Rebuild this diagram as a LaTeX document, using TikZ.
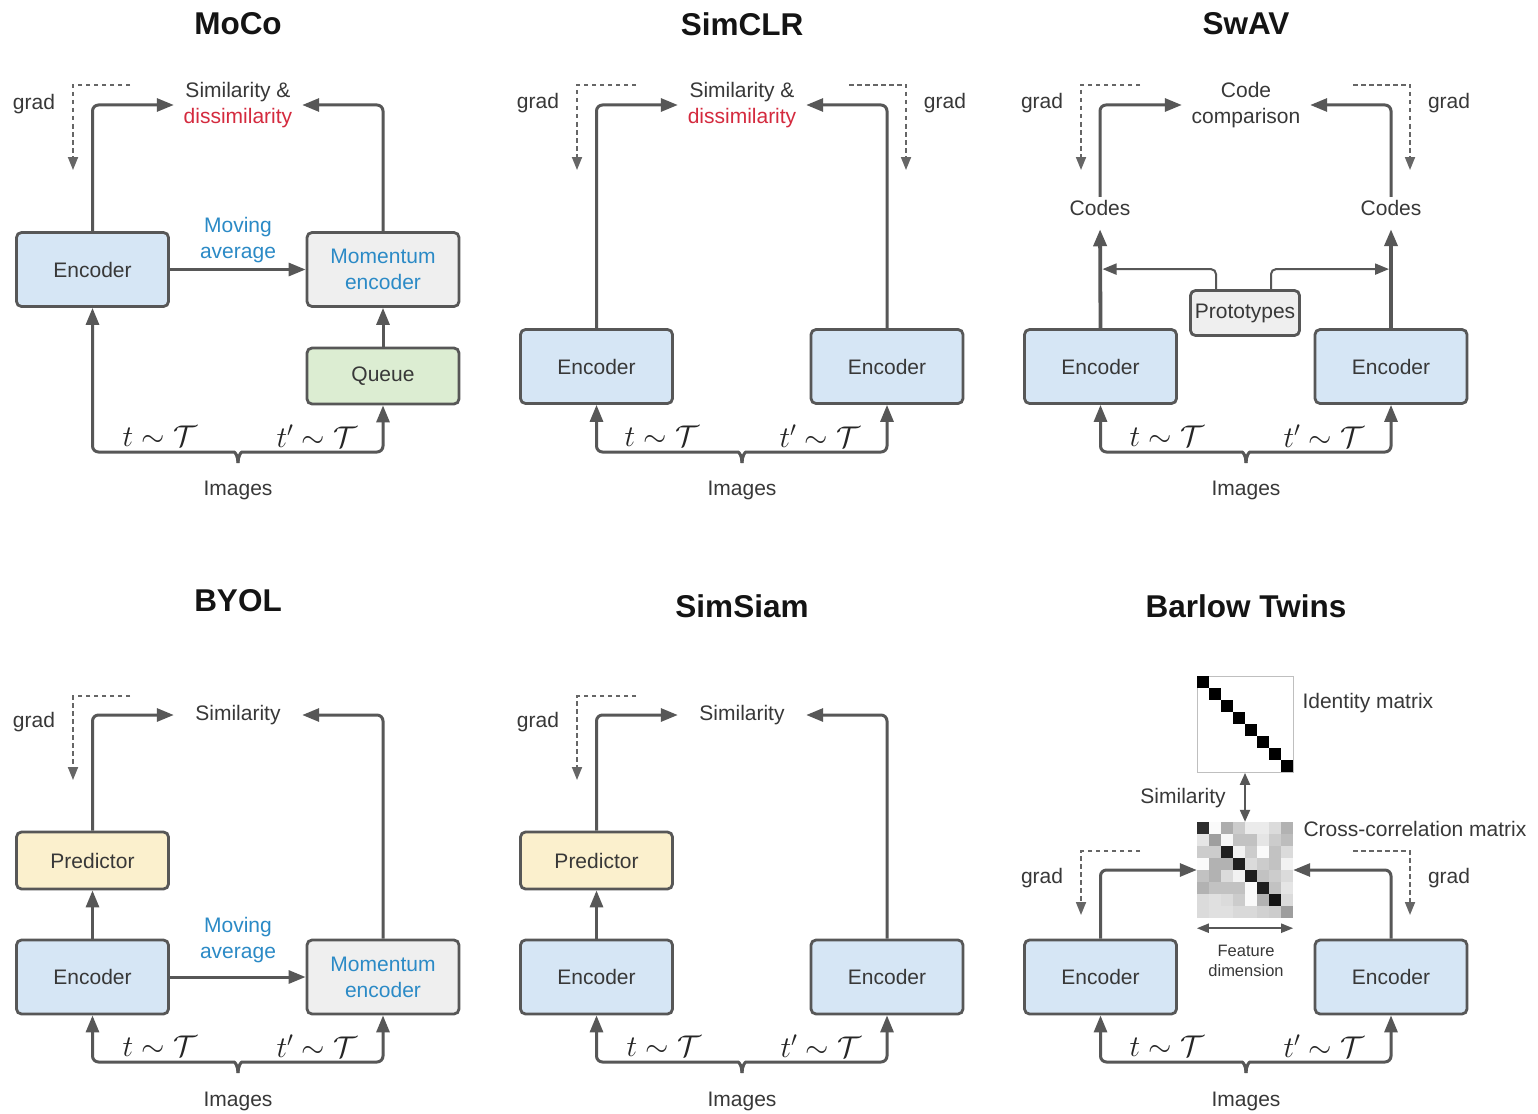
\RequirePackage{fix-cm}
\documentclass[tikz,border=0pt]{standalone}
\usepackage{fontspec}
\setmainfont{Liberation Sans}
\usetikzlibrary{arrows.meta,calc}

\definecolor{bord}{HTML}{575757}
\definecolor{txtc}{HTML}{383838}
\definecolor{encfill}{HTML}{D6E6F5}
\definecolor{momfill}{HTML}{EFEFEF}
\definecolor{queuefill}{HTML}{DCEDD2}
\definecolor{predfill}{HTML}{FBF0CD}
\definecolor{bluetxt}{HTML}{2B8AC6}
\definecolor{redtxt}{HTML}{D42A3E}
\definecolor{gradc}{HTML}{666666}

\newcommand\txt{\fontsize{21}{26}\selectfont}
\newcommand\smalltxt{\fontsize{16.5}{20.5}\selectfont}
\newcommand\ttl{\fontsize{31.5}{36}\selectfont\bfseries}
\newcommand\mth{\fontsize{30}{30}\selectfont}

\tikzset{
  box/.style={draw=bord, line width=2.8pt, rounded corners=5pt,
    minimum width=152pt, minimum height=74pt, font=\txt, text=txtc, align=center},
  enc/.style={box, fill=encfill},
  mom/.style={box, fill=momfill, text=bluetxt},
  queue/.style={box, fill=queuefill, minimum height=56pt},
  pred/.style={box, fill=predfill, minimum height=57pt},
  proto/.style={box, fill=momfill, minimum width=109pt, minimum height=45pt, inner sep=1pt},
  lbl/.style={font=\txt, text=txtc, align=center},
  sim/.style={lbl, minimum width=128pt, inner sep=2pt},
  avg/.style={lbl, text=bluetxt},
  ttl/.style={font=\ttl, text=black!92},
  mth/.style={font=\mth, text=black!85},
  conn/.style={draw=bord, line width=3pt, rounded corners=6pt,
    -{Triangle[length=17pt,width=13pt]}},
  thinconn/.style={draw=bord, line width=2pt, rounded corners=5pt,
    -{Triangle[length=14pt,width=11pt]}},
  gradl/.style={draw=gradc, line width=1.8pt, dash pattern=on 4.5pt off 3.5pt,
    -{Triangle[length=13pt,width=10pt]}},
}

% brace under a pair of branches: name, centre x, base y, left node, right node
\newcommand\imgbrace[5]{%
  \coordinate (#1tip) at (#2,#3+11);
  \coordinate (#1base) at (#2,#3);
  \draw[conn] (#1tip) .. controls (#2,#3+4) and (#2-3,#3) .. (#2-10,#3)
     -- (#4.south |- #1base) -- (#4.south);
  \draw[conn] (#1tip) .. controls (#2,#3+4) and (#2+3,#3) .. (#2+10,#3)
     -- (#5.south |- #1base) -- (#5.south);
}

\begin{document}
\begin{tikzpicture}[x=1pt,y=-1pt]
\useasboundingbox[fill=white] (0,0) rectangle (1538,1113);

% ---------------- MoCo ----------------
\node[ttl] (tMoCo) at (238,24) {MoCo};
\node[enc] (mEnc) at (92.5,269.5) {Encoder};
\node[mom] (mMom) at (383,269.5) {Momentum\\encoder};
\node[queue] (mQ) at (383,376) {Queue};
\node[sim] (mSim) at (238,105) {Similarity \&\\\textcolor{redtxt}{dissimilarity}};
\node[avg] (mAvg) at (238,240) {Moving\\average};
\draw[conn] (mEnc.east) -- (mMom.west);
\draw[conn] (mEnc.north) |- (mSim.west);
\draw[conn] (mMom.north) |- (mSim.east);
\draw[conn] (mQ.north) -- (mMom.south);
\coordinate (mG1) at (130,85); \coordinate (mG2) at (73,170);
\draw[gradl] (mG1) -| (mG2);
\node[lbl] (mGrad) at (34,104) {grad};
\node[mth] (mT1) at (160,436) {$t\sim\mathcal{T}$};
\node[mth] (mT2) at (317,436) {$t'\sim\mathcal{T}$};
\imgbrace{mB}{238}{452}{mEnc}{mQ}
\node[lbl] (mImg) at (238,490) {Images};

% ---------------- SimCLR ----------------
\node[ttl] (tSimCLR) at (742,24) {SimCLR};
\node[enc] (cEnc1) at (596.5,366.5) {Encoder};
\node[enc] (cEnc2) at (887,366.5) {Encoder};
\node[sim] (cSim) at (742,105) {Similarity \&\\\textcolor{redtxt}{dissimilarity}};
\draw[conn] (cEnc1.north) |- (cSim.west);
\draw[conn] (cEnc2.north) |- (cSim.east);
\coordinate (cG1) at (636,85); \coordinate (cG2) at (577,170);
\draw[gradl] (cG1) -| (cG2);
\coordinate (cG3) at (849,85); \coordinate (cG4) at (906,170);
\draw[gradl] (cG3) -| (cG4);
\node[lbl] (cGrad1) at (538,103) {grad};
\node[lbl] (cGrad2) at (945,103) {grad};
\node[mth] (cT1) at (662,436) {$t\sim\mathcal{T}$};
\node[mth] (cT2) at (820,436) {$t'\sim\mathcal{T}$};
\imgbrace{cB}{742}{452}{cEnc1}{cEnc2}
\node[lbl] (cImg) at (742,490) {Images};

% ---------------- SwAV ----------------
\node[ttl] (tSwAV) at (1246,24) {SwAV};
\node[enc] (sEnc1) at (1100.5,366.5) {Encoder};
\node[enc] (sEnc2) at (1391,366.5) {Encoder};
\node[sim] (sCmp) at (1246,105) {Code\\comparison};
\node[lbl] (sCode1) at (1100,208) {Codes};
\node[lbl] (sCode2) at (1391,208) {Codes};
\node[proto] (sProto) at (1245,313) {Prototypes};
\draw[conn] (sCode1.north) |- (sCmp.west);
\draw[conn] (sCode2.north) |- (sCmp.east);
\draw[conn, line width=3.8pt, shorten >=10pt] (sEnc1.north) -- (sCode1.south);
\draw[conn, line width=3.8pt, shorten >=10pt] (sEnc2.north) -- (sCode2.south);
\draw[thinconn, shorten >=2pt] ([xshift=-29pt]sProto.north) |- ($(sEnc1.north)+(0,-59)$);
\draw[thinconn, shorten >=2pt] ([xshift=26pt]sProto.north) |- ($(sEnc2.north)+(0,-59)$);
\coordinate (sG1) at (1140,85); \coordinate (sG2) at (1081,170);
\draw[gradl] (sG1) -| (sG2);
\coordinate (sG3) at (1353,85); \coordinate (sG4) at (1410,170);
\draw[gradl] (sG3) -| (sG4);
\node[lbl] (sGrad1) at (1042,103) {grad};
\node[lbl] (sGrad2) at (1449,103) {grad};
\node[mth] (sT1) at (1167,436) {$t\sim\mathcal{T}$};
\node[mth] (sT2) at (1324,436) {$t'\sim\mathcal{T}$};
\imgbrace{sB}{1246}{452}{sEnc1}{sEnc2}
\node[lbl] (sImg) at (1246,490) {Images};

% ---------------- BYOL ----------------
\node[ttl] (tBYOL) at (238,601) {BYOL};
\node[pred] (bPred) at (92.5,860.5) {Predictor};
\node[enc] (bEnc) at (92.5,977) {Encoder};
\node[mom] (bMom) at (383,977) {Momentum\\encoder};
\node[sim] (bSim) at (238,715) {Similarity};
\node[avg] (bAvg) at (238,940) {Moving\\average};
\draw[conn] (bEnc.east) -- (bMom.west);
\draw[conn] (bEnc.north) -- (bPred.south);
\draw[conn] (bPred.north) |- (bSim.west);
\draw[conn] (bMom.north) |- (bSim.east);
\coordinate (bG1) at (130,696); \coordinate (bG2) at (73,780);
\draw[gradl] (bG1) -| (bG2);
\node[lbl] (bGrad) at (34,722) {grad};
\node[mth] (bT1) at (160,1046) {$t\sim\mathcal{T}$};
\node[mth] (bT2) at (317,1046) {$t'\sim\mathcal{T}$};
\imgbrace{bB}{238}{1062}{bEnc}{bMom}
\node[lbl] (bImg) at (238,1101) {Images};

% ---------------- SimSiam ----------------
\node[ttl] (tSimSiam) at (742,606) {SimSiam};
\node[pred] (iPred) at (596.5,860.5) {Predictor};
\node[enc] (iEnc1) at (596.5,977) {Encoder};
\node[enc] (iEnc2) at (887,977) {Encoder};
\node[sim] (iSim) at (742,715) {Similarity};
\draw[conn] (iEnc1.north) -- (iPred.south);
\draw[conn] (iPred.north) |- (iSim.west);
\draw[conn] (iEnc2.north) |- (iSim.east);
\coordinate (iG1) at (636,696); \coordinate (iG2) at (577,780);
\draw[gradl] (iG1) -| (iG2);
\node[lbl] (iGrad) at (538,722) {grad};
\node[mth] (iT1) at (664,1046) {$t\sim\mathcal{T}$};
\node[mth] (iT2) at (821,1046) {$t'\sim\mathcal{T}$};
\imgbrace{iB}{742}{1062}{iEnc1}{iEnc2}
\node[lbl] (iImg) at (742,1101) {Images};

% ---------------- Barlow Twins ----------------
\node[ttl] (tBarlow) at (1246,606) {Barlow Twins};
\node[enc] (wEnc1) at (1100.5,977) {Encoder};
\node[enc] (wEnc2) at (1391,977) {Encoder};
\node[draw=black!25, line width=0.8pt, minimum size=96pt, inner sep=0pt] (idm) at (1245,724.5) {};
\foreach \k in {0,...,7}
  \fill[black] ($(idm.north west)+(\k*12,\k*12)$) rectangle ++(12,12);
\node[minimum size=96pt, inner sep=0pt] (ccm) at (1245,870) {};
\foreach [count=\r from 0] \row in {
  {18,98,68,80,92,92,86,70},
  {90,62,97,76,76,90,80,74},
  {80,80,12,95,80,98,76,86},
  {98,70,70,12,86,80,76,95},
  {76,70,86,95,12,76,80,86},
  {70,76,76,76,98,12,76,90},
  {86,88,86,80,98,70,8,86},
  {86,88,88,85,85,82,80,62}} {
  \foreach [count=\c from 0] \v in \row
    \fill[white!\v!black] ($(ccm.north west)+(\c*12,\r*12)$) rectangle ++(12,12);
}
\node[lbl, anchor=west] (wIdl) at (1299,703) {Identity matrix};
\node[lbl, anchor=west] (wCcl) at (1300,829) {Cross-correlation matrix};
\node[lbl] (wSim) at (1183,798) {Similarity};
\draw[draw=bord, line width=2.2pt, {Triangle[length=12pt,width=10pt]}-{Triangle[length=12pt,width=10pt]}]
  (idm.south) -- (ccm.north);
\draw[draw=bord, line width=2pt, {Triangle[length=12pt,width=9pt]}-{Triangle[length=12pt,width=9pt]}]
  ($(ccm.south west)+(0,10)$) -- ($(ccm.south east)+(0,10)$);
\node[lbl, font=\smalltxt] (wFd) at (1246,961) {Feature\\dimension};
\draw[conn] (wEnc1.north) |- (ccm.west);
\draw[conn] (wEnc2.north) |- (ccm.east);
\coordinate (wG1) at (1140,851); \coordinate (wG2) at (1081,915);
\draw[gradl] (wG1) -| (wG2);
\coordinate (wG3) at (1353,851); \coordinate (wG4) at (1410,915);
\draw[gradl] (wG3) -| (wG4);
\node[lbl] (wGrad1) at (1042,878) {grad};
\node[lbl] (wGrad2) at (1449,878) {grad};
\node[mth] (wT1) at (1167,1046) {$t\sim\mathcal{T}$};
\node[mth] (wT2) at (1324,1046) {$t'\sim\mathcal{T}$};
\imgbrace{wB}{1246}{1062}{wEnc1}{wEnc2}
\node[lbl] (wImg) at (1246,1101) {Images};
\end{tikzpicture}
\end{document}
